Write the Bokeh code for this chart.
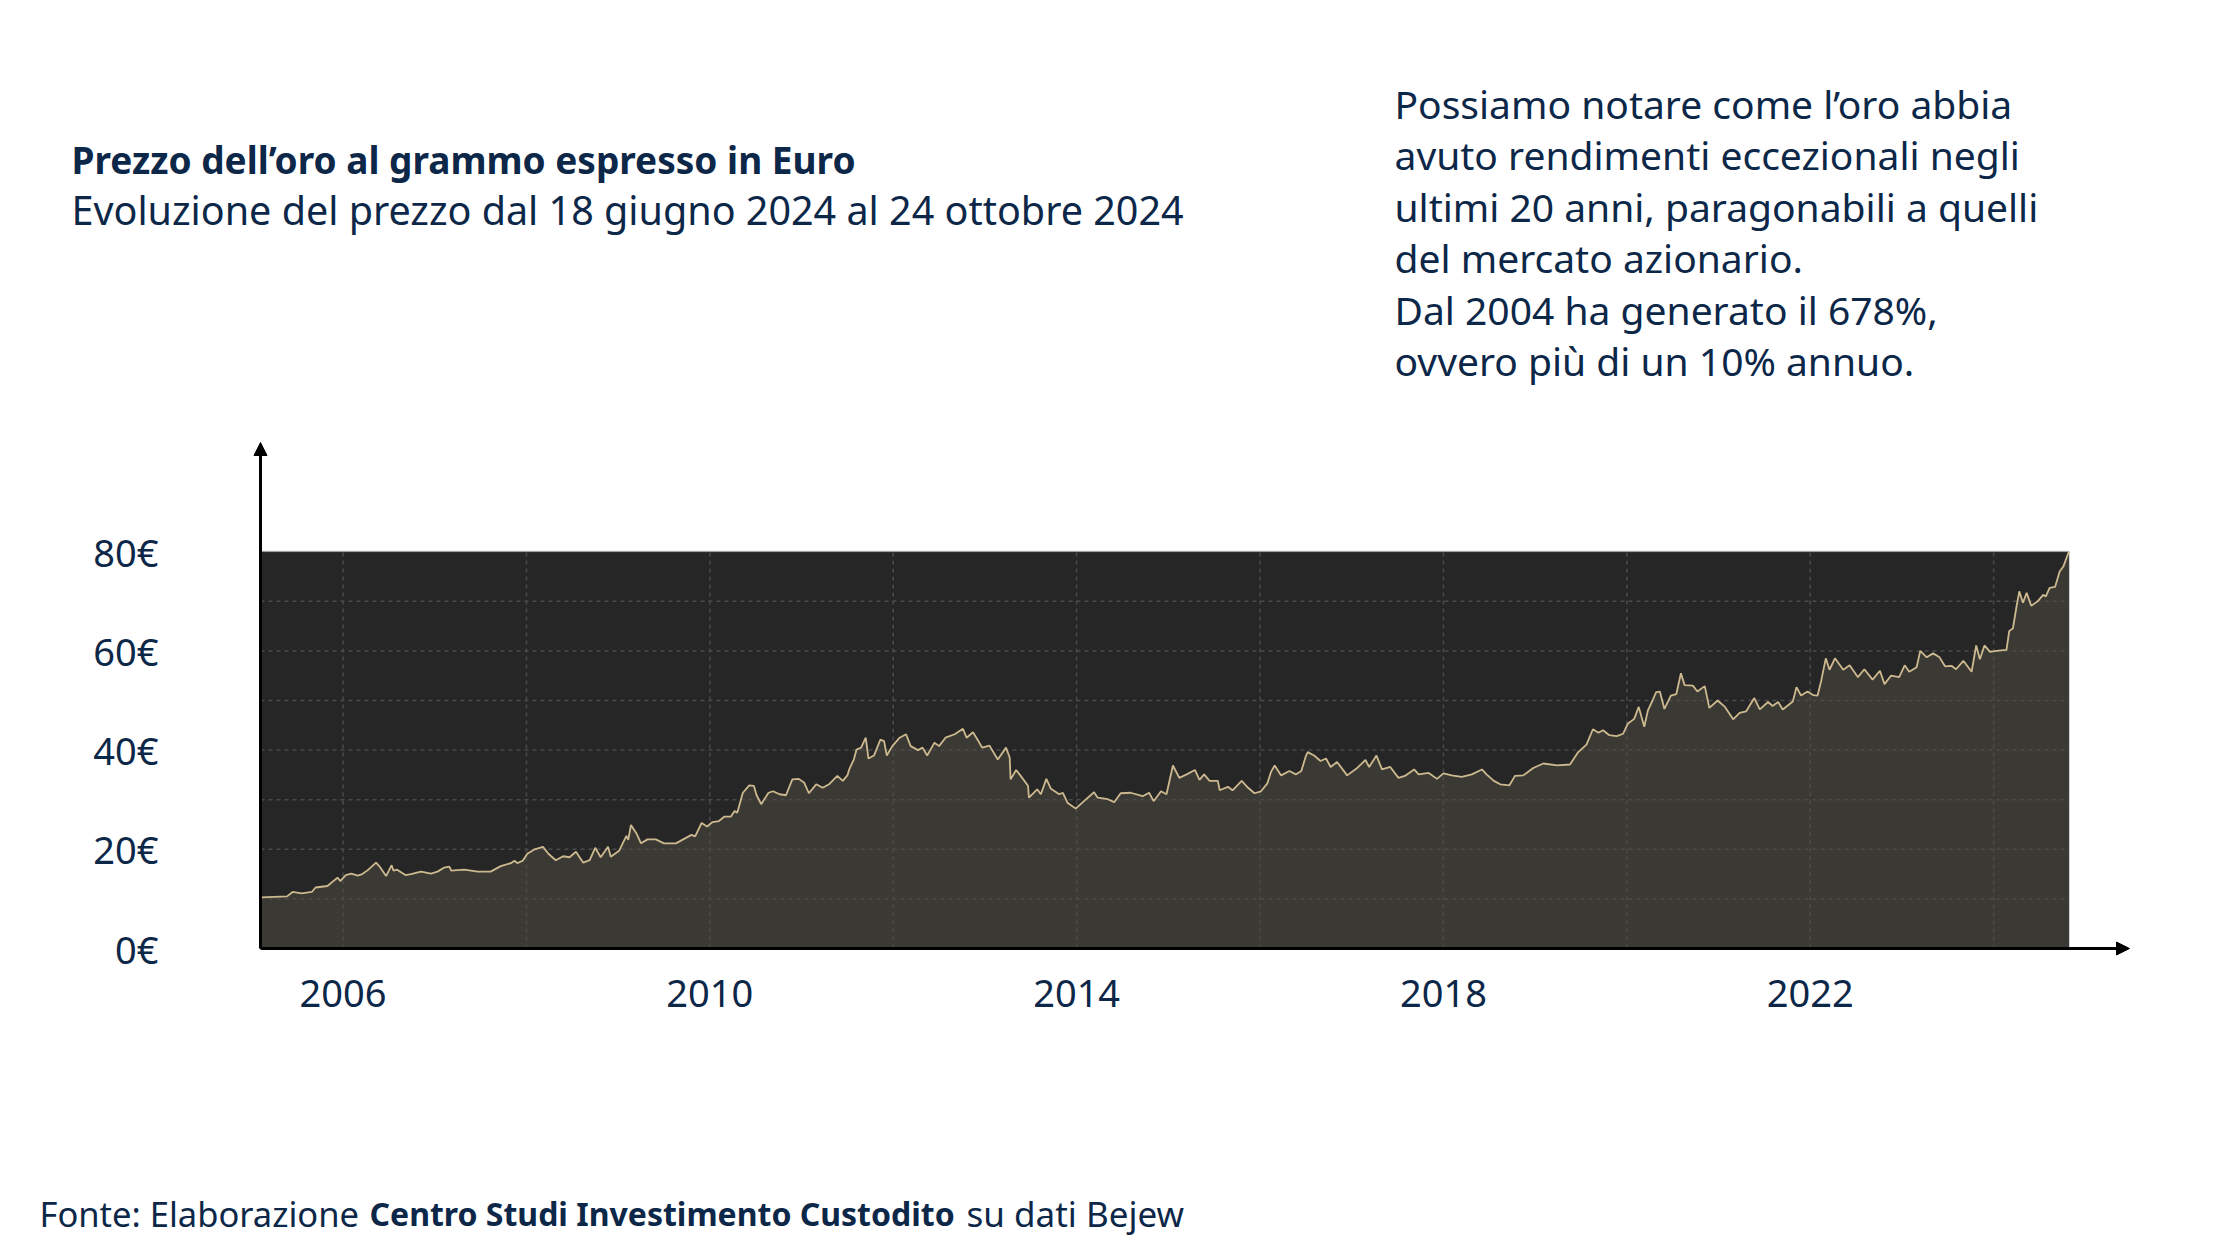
from bokeh.plotting import figure
from bokeh.models import Range1d, FixedTicker, BoxAnnotation, Arrow, NormalHead, LinearAxis
from bokeh.core.properties import value
from bokeh.embed import file_html
from bokeh.resources import INLINE

# ---------------- data ----------------
dates = [
    2005.10, 2005.25, 2005.39, 2005.45, 2005.55, 2005.66, 2005.70, 2005.83, 2005.94, 2005.97,
    2006.03, 2006.09, 2006.16, 2006.21, 2006.27, 2006.36, 2006.40, 2006.47, 2006.53, 2006.55,
    2006.59, 2006.68, 2006.74, 2006.85, 2006.96, 2007.03, 2007.10, 2007.16, 2007.18, 2007.32,
    2007.47, 2007.61, 2007.72, 2007.83, 2007.87, 2007.90, 2007.96, 2008.01, 2008.09, 2008.18,
    2008.24, 2008.27, 2008.32, 2008.40, 2008.47, 2008.54, 2008.62, 2008.69, 2008.75, 2008.81,
    2008.89, 2008.92, 2009.01, 2009.09, 2009.11, 2009.14, 2009.20, 2009.25, 2009.32, 2009.41,
    2009.50, 2009.63, 2009.71, 2009.80, 2009.84, 2009.91, 2009.97, 2010.03, 2010.10, 2010.16,
    2010.23, 2010.27, 2010.30, 2010.36, 2010.43, 2010.48, 2010.51, 2010.56, 2010.64, 2010.69,
    2010.76, 2010.83, 2010.90, 2010.97, 2011.03, 2011.08, 2011.16, 2011.23, 2011.30, 2011.39,
    2011.45, 2011.50, 2011.52, 2011.57, 2011.60, 2011.65, 2011.70, 2011.73, 2011.79, 2011.86,
    2011.90, 2011.93, 2011.99, 2012.07, 2012.14, 2012.19, 2012.27, 2012.32, 2012.37, 2012.45,
    2012.50, 2012.57, 2012.67, 2012.76, 2012.80, 2012.87, 2012.92, 2012.97, 2013.05, 2013.14,
    2013.23, 2013.27, 2013.28, 2013.34, 2013.39, 2013.47, 2013.48, 2013.57, 2013.61, 2013.67,
    2013.72, 2013.81, 2013.85, 2013.90, 2013.99, 2014.08, 2014.19, 2014.23, 2014.34, 2014.41,
    2014.48, 2014.59, 2014.72, 2014.79, 2014.84, 2014.92, 2014.98, 2015.05, 2015.12, 2015.20,
    2015.29, 2015.34, 2015.39, 2015.45, 2015.54, 2015.56, 2015.65, 2015.70, 2015.80, 2015.87,
    2015.94, 2016.01, 2016.08, 2016.12, 2016.16, 2016.23, 2016.32, 2016.39, 2016.45, 2016.50,
    2016.52, 2016.59, 2016.66, 2016.72, 2016.77, 2016.84, 2016.95, 2017.06, 2017.15, 2017.19,
    2017.27, 2017.33, 2017.42, 2017.51, 2017.58, 2017.68, 2017.73, 2017.84, 2017.93, 2018.00,
    2018.09, 2018.20, 2018.31, 2018.42, 2018.47, 2018.55, 2018.62, 2018.72, 2018.78, 2018.87,
    2018.98, 2019.09, 2019.24, 2019.38, 2019.47, 2019.56, 2019.63, 2019.69, 2019.74, 2019.81,
    2019.89, 2019.96, 2020.01, 2020.08, 2020.13, 2020.16, 2020.19, 2020.23, 2020.28, 2020.32,
    2020.36, 2020.41, 2020.48, 2020.54, 2020.59, 2020.63, 2020.72, 2020.77, 2020.85, 2020.90,
    2020.99, 2021.07, 2021.16, 2021.23, 2021.30, 2021.39, 2021.45, 2021.54, 2021.59, 2021.65,
    2021.70, 2021.81, 2021.85, 2021.90, 2021.97, 2022.03, 2022.08, 2022.12, 2022.17, 2022.21,
    2022.27, 2022.36, 2022.43, 2022.52, 2022.59, 2022.68, 2022.76, 2022.81, 2022.88, 2022.97,
    2023.03, 2023.08, 2023.16, 2023.20, 2023.27, 2023.34, 2023.41, 2023.47, 2023.54, 2023.59,
    2023.67, 2023.76, 2023.81, 2023.85, 2023.90, 2023.96, 2024.03, 2024.14, 2024.17, 2024.21,
    2024.25, 2024.28, 2024.32, 2024.36, 2024.41, 2024.48, 2024.54, 2024.57, 2024.61, 2024.67,
    2024.72, 2024.76, 2024.82,
]
prices = [
    10.3, 10.4, 10.5, 11.4, 11.1, 11.4, 12.3, 12.6, 14.3, 13.6,
    14.8, 15.1, 14.7, 15.0, 15.8, 17.3, 16.5, 14.6, 16.8, 15.7,
    15.9, 14.8, 15.0, 15.5, 15.1, 15.5, 16.3, 16.5, 15.7, 15.9,
    15.5, 15.5, 16.6, 17.2, 17.7, 17.2, 17.7, 19.1, 20.0, 20.5,
    19.1, 18.6, 17.8, 18.6, 18.4, 19.5, 17.3, 17.8, 20.3, 18.4,
    20.5, 18.5, 19.7, 22.7, 21.9, 24.9, 23.2, 21.2, 22.0, 22.0,
    21.2, 21.2, 22.0, 22.9, 22.6, 25.3, 24.6, 25.5, 25.7, 26.6,
    26.6, 27.7, 27.4, 31.4, 32.9, 32.8, 30.9, 29.1, 31.4, 31.7,
    31.1, 30.9, 34.1, 34.2, 33.4, 31.3, 33.1, 32.4, 33.1, 34.8,
    33.8, 34.9, 36.1, 38.1, 40.1, 40.5, 42.5, 38.3, 38.9, 42.1,
    41.8, 38.9, 40.8, 42.5, 43.2, 40.8, 40.0, 40.5, 38.9, 41.5,
    40.8, 42.5, 43.2, 44.3, 42.5, 43.6, 42.1, 40.5, 40.9, 38.1,
    40.5, 38.5, 34.1, 36.0, 34.8, 32.8, 30.4, 32.1, 31.1, 34.2,
    32.2, 31.1, 31.4, 29.4, 28.2, 29.7, 31.5, 30.4, 30.1, 29.5,
    31.3, 31.4, 30.7, 31.4, 29.7, 31.7, 31.1, 36.9, 34.4, 35.1,
    36.0, 34.0, 35.1, 33.8, 33.8, 31.9, 32.6, 31.9, 33.8, 32.4,
    31.3, 31.7, 33.3, 35.6, 36.9, 34.9, 35.8, 35.1, 35.8, 38.8,
    39.6, 38.9, 37.8, 38.3, 36.6, 37.6, 34.9, 36.4, 38.0, 36.6,
    38.9, 36.1, 36.6, 34.4, 34.8, 36.1, 35.1, 35.4, 34.2, 35.3,
    34.9, 34.6, 35.1, 36.1, 35.1, 33.8, 33.1, 32.9, 34.8, 34.9,
    36.4, 37.3, 36.9, 37.1, 39.6, 41.1, 44.2, 43.5, 44.0, 43.0,
    42.8, 43.3, 45.3, 46.3, 48.7, 46.7, 44.7, 48.0, 50.0, 51.7,
    51.8, 48.3, 51.0, 51.3, 55.5, 53.1, 53.0, 51.8, 52.9, 48.5,
    50.0, 48.7, 46.2, 47.5, 47.8, 50.5, 48.2, 49.7, 48.9, 49.7,
    48.2, 49.8, 52.7, 51.0, 51.8, 51.1, 51.0, 54.0, 58.5, 56.2,
    58.5, 56.2, 57.1, 54.7, 56.3, 54.2, 56.0, 53.3, 55.0, 54.7,
    57.1, 55.8, 56.7, 60.0, 58.7, 59.5, 58.7, 56.9, 57.0, 56.3,
    58.0, 55.8, 61.1, 58.3, 61.1, 59.8, 60.0, 60.2, 64.0, 64.5,
    69.0, 72.0, 69.7, 71.7, 69.1, 70.0, 71.3, 71.0, 72.7, 72.9,
    76.0, 77.0, 80.0,
]

y_ticks = [0, 20, 40, 60, 80]
y_tick_labels = ["0€", "20€", "40€", "60€", "80€"]
x_ticks = [2006, 2010, 2014, 2018, 2022]
x_tick_labels = ["2006", "2010", "2014", "2018", "2022"]
grid_years = [2006, 2008, 2010, 2012, 2014, 2016, 2018, 2020, 2022, 2024]
grid_values = [10, 20, 30, 40, 50, 60, 70]

title_text = "Prezzo dell\u2019oro al grammo espresso in Euro"
subtitle_text = "Evoluzione del prezzo dal 18 giugno 2024 al 24 ottobre 2024"
note_lines = [
    "Possiamo notare come l\u2019oro abbia",
    "avuto rendimenti eccezionali negli",
    "ultimi 20 anni, paragonabili a quelli",
    "del mercato azionario.",
    "Dal 2004 ha generato il 678%,",
    "ovvero più di un 10% annuo.",
]
source_parts = ["Fonte: Elaborazione", "Centro Studi Investimento Custodito", "su dati Bejew"]

# ---------------- layout (canvas pixels) ----------------
W, H = 2224, 1244
CHART_L, ARROW_R, ARROW_T, CHART_B = 260, 2129, 442, 948
PX_PER_YEAR = 91.7
PX_PER_EUR = 4.96

NAVY = "#0c2748"
FONT = "Noto Sans"


def year_at(X):
    return dates[0] + (X - CHART_L) / PX_PER_YEAR


def eur_at(Y):
    return (CHART_B - Y) / PX_PER_EUR


x_arrow_end = year_at(ARROW_R)
y_arrow_end = eur_at(ARROW_T)

p = figure(
    width=W, height=H,
    x_range=Range1d(year_at(0), year_at(W)), y_range=Range1d(eur_at(H), eur_at(0)),
    output_backend="svg", toolbar_location=None, title=None,
    x_axis_location=None, y_axis_location=None, min_border=0,
)
p.extra_x_ranges = {"px": Range1d(0, W)}
p.extra_y_ranges = {"px": Range1d(H, 0)}
p.outline_line_color = None
p.background_fill_color = "white"
p.border_fill_color = "white"
p.xgrid.visible = False
p.ygrid.visible = False

# dark plotting panel
panel = BoxAnnotation(left=dates[0], right=dates[-1], bottom=y_ticks[0], top=y_ticks[-1],
                      fill_color="#262626", fill_alpha=1.0,
                      line_color="#4a4a4a", line_width=2, level="underlay")
p.add_layout(panel)

# area + grid + line
p.varea(x=dates, y1=0, y2=prices, fill_color="#3b3934", fill_alpha=1.0)
p.segment(x0=grid_years, y0=[y_ticks[0]] * len(grid_years), x1=grid_years,
          y1=[y_ticks[-1]] * len(grid_years),
          line_color="#4b4b4b", line_width=1.5, line_dash="4 4")
p.segment(x0=[dates[0]] * len(grid_values), y0=grid_values,
          x1=[dates[-1]] * len(grid_values), y1=grid_values,
          line_color="#4b4b4b", line_width=1.5, line_dash="4 4")
p.line(dates, prices, line_color="#cdb98f", line_width=1.8)

# axes placed at the chart's corner
yaxis = LinearAxis(fixed_location=dates[0], bounds=(0, y_arrow_end - 1.5),
                   ticker=FixedTicker(ticks=y_ticks, minor_ticks=[]),
                   major_label_overrides=dict(zip(y_ticks, y_tick_labels)),
                   major_label_standoff=102)
xaxis = LinearAxis(fixed_location=0, bounds=(dates[0], x_arrow_end - 0.08),
                   ticker=FixedTicker(ticks=x_ticks, minor_ticks=[]),
                   major_label_overrides=dict(zip(x_ticks, x_tick_labels)),
                   major_label_standoff=31)
for ax in (xaxis, yaxis):
    ax.axis_line_color = "black"
    ax.axis_line_width = 3
    ax.major_tick_line_color = None
    ax.minor_tick_line_color = None
    ax.major_tick_out = 0
    ax.major_tick_in = 0
    ax.major_label_text_font = FONT
    ax.major_label_text_font_size = "38px"
    ax.major_label_text_color = NAVY
p.add_layout(yaxis, "left")
p.add_layout(xaxis, "below")

# arrow heads at the end of the axes
p.add_layout(Arrow(end=NormalHead(size=13, fill_color="black", line_color="black"),
                   x_start=dates[0], y_start=y_ticks[-1], x_end=dates[0], y_end=y_arrow_end,
                   line_color="black", line_width=3))
p.add_layout(Arrow(end=NormalHead(size=13, fill_color="black", line_color="black"),
                   x_start=dates[-1], y_start=0, x_end=x_arrow_end, y_end=0,
                   line_color="black", line_width=3))


# ---------------- texts (canvas pixel coordinates via the "px" ranges) ----------------
def add_text(X, Y, text, size, bold=False):
    p.text(x=[X], y=[Y], text=[text], x_range_name="px", y_range_name="px",
           text_font=value(FONT), text_font_size=value(size), text_color=NAVY,
           text_font_style="bold" if bold else "normal",
           text_baseline="alphabetic", text_align="left")


add_text(71, 159, title_text, "37px", bold=True)
add_text(71, 209, subtitle_text, "39.5px")
for i, line in enumerate(note_lines):
    add_text(1394, 103 + 51.4 * i, line, "39px")

add_text(39, 1213, source_parts[0], "34.5px")
add_text(369, 1213, source_parts[1], "32px", bold=True)
add_text(966, 1213, source_parts[2], "35px")

open("out.html", "w").write(file_html(p, INLINE))
